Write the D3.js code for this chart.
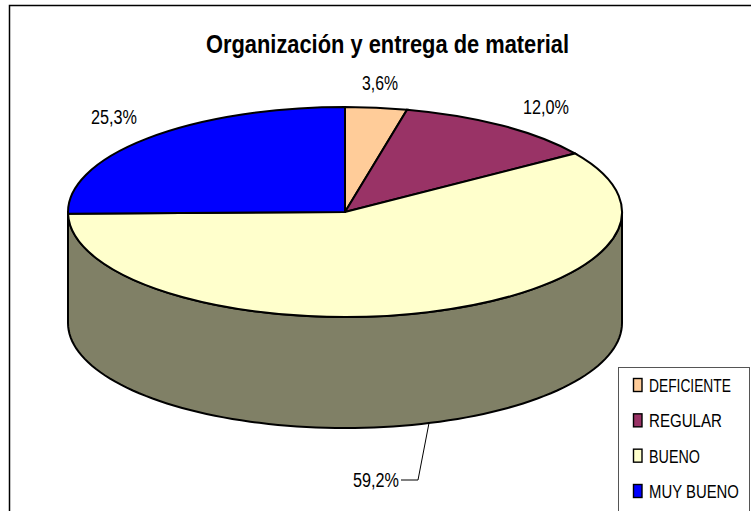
<!DOCTYPE html>
<html><head><meta charset="utf-8"><script src="https://cdn.jsdelivr.net/npm/d3@7"></script>
<style>html,body{margin:0;padding:0;background:#fff}svg{display:block}text{font-family:"Liberation Sans",Arial,sans-serif;fill:#000}</style></head>
<body><svg id="c" width="751" height="511"></svg>
<script>
const categories=["DEFICIENTE","REGULAR","BUENO","MUY BUENO"];
const values=[3.6,12.0,59.2,25.3];
const labels=["3,6%","12,0%","59,2%","25,3%"];
const colors=["#FFCC99","#993366","#FFFFCC","#0000FF"];
const sideColor="#808066";
const svg=d3.select("#c");
const cx=345,cy=212,rx=277,ry=105,depth=111;
svg.append("rect").attr("x",9.5).attr("y",5.5).attr("width",760).attr("height",520).attr("fill","#fff").attr("stroke","#000").attr("stroke-width",1.5);
svg.append("text").attr("x",387.5).attr("y",53).attr("text-anchor","middle").attr("font-size",25).attr("font-weight","bold").attr("textLength",363).attr("lengthAdjust","spacingAndGlyphs").text("Organización y entrega de material");
const px=d3.scaleLinear().domain([-1,1]).range([cx-rx,cx+rx]);
const py=d3.scaleLinear().domain([-1,1]).range([cy-ry,cy+ry]);
const steps=d3.range(90,271,2).map(d=>d*Math.PI/180);
const wallArea=d3.area().x(a=>px(Math.sin(a))).y0(a=>py(-Math.cos(a))).y1(a=>py(-Math.cos(a))+depth);
svg.append("path").attr("d",wallArea(steps)).attr("fill",sideColor).attr("stroke","#000").attr("stroke-width",2);
const pieData=d3.pie().sort(null).value(d=>d)(values);
const arc=d3.arc().innerRadius(0).outerRadius(rx);
const face=svg.append("g").attr("transform",`translate(${cx},${cy}) scale(1,${ry/rx})`);
face.selectAll("path").data(pieData).join("path").attr("d",arc).attr("fill",(d,i)=>colors[i]).attr("stroke","#000").attr("stroke-width",2).attr("vector-effect","non-scaling-stroke");
const lp=[[380,90],[546,114],[376,487],[114,124]];
svg.selectAll("text.l").data(labels).join("text").attr("class","l").attr("x",(d,i)=>lp[i][0]).attr("y",(d,i)=>lp[i][1]).attr("text-anchor","middle").attr("font-size",19.5).attr("textLength",(d,i)=>i==0?36:46).attr("lengthAdjust","spacingAndGlyphs").text(d=>d);
svg.append("polyline").attr("points","401,480 418,480 429,423").attr("fill","none").attr("stroke","#000").attr("stroke-width",1);
const lx=618,ly=367.5;
svg.append("rect").attr("x",lx+.5).attr("y",ly).attr("width",131).attr("height",150).attr("fill","#fff").attr("stroke","#555").attr("stroke-width",1);
const ys=d3.scalePoint().domain(categories).range([385,491]);
const lg=svg.selectAll("g.lg").data(categories).join("g").attr("class","lg").attr("transform",d=>`translate(0,${ys(d)})`);
lg.append("rect").attr("x",633.5).attr("y",-6.5).attr("width",8.5).attr("height",13).attr("fill",(d,i)=>colors[i]).attr("stroke","#000").attr("stroke-width",1.4);
const legendWidths=[82,73,51,90];
lg.append("text").attr("font-size",18.5).text(d=>d).each(function(d,i){
  const w=this.getComputedTextLength();
  d3.select(this).attr("transform",`translate(649,7) scale(${legendWidths[i]/w},1)`);
});
</script></body></html>
